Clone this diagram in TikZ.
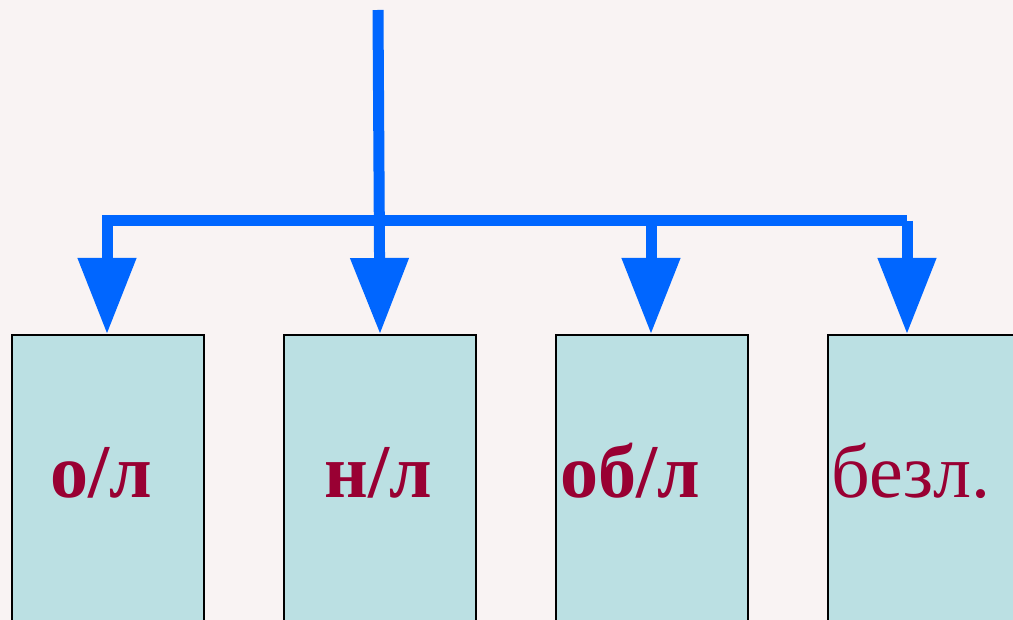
\documentclass[tikz,border=0pt]{standalone}
\usepackage{fontspec}
\setmainfont{Liberation Serif}
\usetikzlibrary{arrows.meta}
\definecolor{bgc}{HTML}{F9F3F3}
\definecolor{boxc}{HTML}{BBE0E3}
\definecolor{txtc}{HTML}{990033}
\definecolor{arrc}{HTML}{0066FF}
\tikzset{
  box/.style={draw=black, line width=2pt, fill=boxc, minimum width=192pt, minimum height=300pt, anchor=north west, inner sep=0pt},
  lbl/.style={text=txtc, font=\fontsize{76}{76}\selectfont, anchor=base, inner sep=0pt},
  conn/.style={draw=arrc, line width=11pt},
  arr/.style={conn, -{Triangle[width=56pt,length=76pt]}}
}
\begin{document}
\begin{tikzpicture}[x=1pt,y=-1pt]
\useasboundingbox (0,0) rectangle (1013,620);
\fill[bgc] (0,0) rectangle (1013,620);
\clip (0,0) rectangle (1013,620);
\node[box] (b1) at (11,334) {};
\node[box] (b2) at (283,334) {};
\node[box] (b3) at (555,334) {};
\node[box] (b4) at (827,334) {};
\node[lbl, font=\fontsize{76}{76}\selectfont\bfseries] (t1) at (101,497) {о/л};
\node[lbl, font=\fontsize{76}{76}\selectfont\bfseries] (t2) at (378,497) {н/л};
\node[lbl, font=\fontsize{76}{76}\selectfont\bfseries] (t3) at (630,497) {об/л};
\node[lbl] (t4) at (911,497) {безл.};
\coordinate (top) at (378,10);
\coordinate (j1) at (107,221);
\coordinate (j2) at (378,221);
\coordinate (j3) at (651,221);
\coordinate (j4) at (907,221);
\coordinate (e1) at (107,334);
\coordinate (e3) at (651,334);
\coordinate (e4) at (907,334);
\draw[conn] (j1) -- (j4);
\draw[conn, line cap=rect] (j1) -- ++(0,5);
\draw[arr] (top) -- (b2.north);
\draw[arr] (j1) -- (e1);
\draw[arr] (j3) -- (e3);
\draw[arr] (j4) -- (e4);
\end{tikzpicture}
\end{document}
